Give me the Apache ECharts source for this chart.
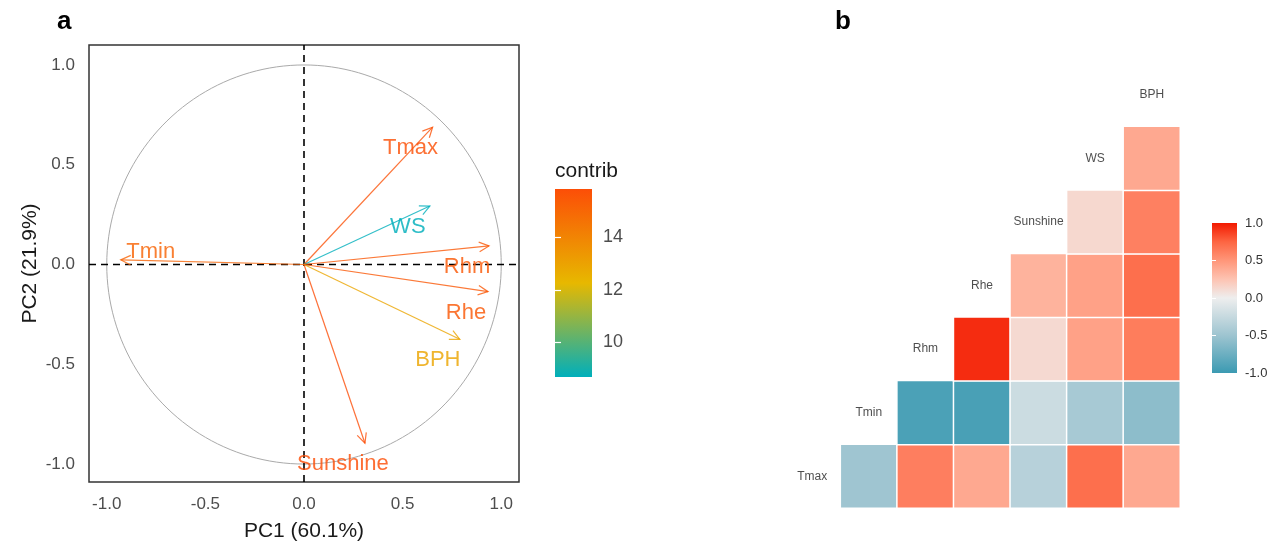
<!DOCTYPE html>
<head>
    <meta charset="utf-8">
    <title>PCA and correlation</title>
    <style>
        html, body { margin: 0; padding: 0; background: #fff; }
        #main { width: 1275px; height: 548px; }
    </style>
</head>
<body>
<div id="main"></div>

<script src="https://cdn.jsdelivr.net/npm/echarts@6/dist/echarts.min.js"></script>
<script type="text/javascript">
    // panel a: PCA variable loadings (PC1, PC2) and contribution
    var pcaVars = ['Tmax', 'WS', 'Rhm', 'Rhe', 'BPH', 'Sunshine', 'Tmin'];
    var pc1 = [0.652, 0.638, 0.938, 0.933, 0.790, 0.309, -0.929];
    var pc2 = [0.688, 0.293, 0.093, -0.136, -0.375, -0.896, 0.023];
    var contrib = [15.75, 8.68, 15.5, 15.5, 12.9, 15.85, 15.1];
    var pcTicks = [-1, -0.5, 0, 0.5, 1];
    var contribTicks = [10, 12, 14];

    // panel b: correlation matrix, lower triangle by row
    var corrVars = ['Tmax', 'Tmin', 'Rhm', 'Rhe', 'Sunshine', 'WS', 'BPH'];
    var corrTmax = [-0.49, 0.62, 0.40, -0.34, 0.70, 0.40];
    var corrTmin = [-0.92, -0.93, -0.22, -0.44, -0.58];
    var corrRhm = [0.94, 0.12, 0.44, 0.63];
    var corrRhe = [0.34, 0.44, 0.70];
    var corrSunshine = [0.13, 0.61];
    var corrWS = [0.40];
    var corrTicks = [-1, -0.5, 0, 0.5, 1];

    var FONT = 'Liberation Sans, Arial, sans-serif';
    var contribColors = ['#00AFBB', '#E7B800', '#FC4E07'];
    // low / mid / high with Lab-like steps in between
    var corrColors = ['#3B9AB2', '#6CAFC1', '#9DC4D0', '#C6D9DF', '#EEEEEE',
        '#FDC3B2', '#FF9679', '#FD6542', '#F21A00'];

    var cMin = Math.min.apply(null, contrib);
    var cMax = Math.max.apply(null, contrib);

    var arrowData = pcaVars.map(function (n, i) { return [pc1[i], pc2[i], contrib[i]]; });

    var corrRows = [corrTmax, corrTmin, corrRhm, corrRhe, corrSunshine, corrWS];
    var heatData = [];
    corrRows.forEach(function (row, i) {
        row.forEach(function (v, k) { heatData.push([i + 1 + k, i, v]); });
    });
    var diagData = corrVars.map(function (n, i) { return [i, i]; });

    function renderArrow(params, api) {
        var x = api.value(0), y = api.value(1);
        var o = api.coord([0, 0]);
        var p = api.coord([x, y]);
        var color = api.visual('color');
        var ang = Math.atan2(p[1] - o[1], p[0] - o[0]);
        var L = 11, a = Math.PI / 7;
        var h1 = [p[0] - L * Math.cos(ang - a), p[1] - L * Math.sin(ang - a)];
        var h2 = [p[0] - L * Math.cos(ang + a), p[1] - L * Math.sin(ang + a)];
        var right = x >= 0;
        return {
            type: 'group',
            children: [
                {type: 'line', shape: {x1: o[0], y1: o[1], x2: p[0], y2: p[1]},
                    style: {stroke: color, lineWidth: 1.2, opacity: 0.8}},
                {type: 'polyline', shape: {points: [h1, p, h2]},
                    style: {stroke: color, fill: null, lineWidth: 1.2, opacity: 0.8}},
                {type: 'text', x: p[0] + (right ? -22 : 30), y: p[1] + (right ? 21 : -8),
                    style: {text: pcaVars[params.dataIndex], fill: color, fontSize: 22, opacity: 0.82,
                        fontFamily: FONT, align: 'center', verticalAlign: 'middle'}}
            ]
        };
    }

    function renderCircle(params, api) {
        var pts = [];
        for (var k = 0; k <= 180; k++) {
            var t = k / 180 * 2 * Math.PI;
            pts.push(api.coord([Math.cos(t), Math.sin(t)]));
        }
        return {type: 'polyline', shape: {points: pts},
            style: {stroke: '#aaaaaa', fill: null, lineWidth: 1}};
    }

    function renderCross(params, api) {
        var a = api.coord([0, -1.09]), b = api.coord([0, 1.1]);
        var c = api.coord([-1.09, 0]), d = api.coord([1.09, 0]);
        var st = {stroke: '#000', lineWidth: 1.6, lineDash: [7, 5]};
        return {type: 'group', children: [
            {type: 'line', shape: {x1: a[0], y1: a[1], x2: b[0], y2: b[1]}, style: st},
            {type: 'line', shape: {x1: c[0], y1: c[1], x2: d[0], y2: d[1]}, style: st}
        ]};
    }

    function barRenderer(colors) {
        return function (params, api) {
            var lo = api.value(0), hi = api.value(1);
            var p1 = api.coord([0, hi]), p2 = api.coord([1, lo]);
            var stops = colors.map(function (c, i) {
                return {offset: i / (colors.length - 1), color: c};
            });
            return {type: 'rect',
                shape: {x: p1[0], y: p1[1], width: p2[0] - p1[0], height: p2[1] - p1[1]},
                style: {fill: new echarts.graphic.LinearGradient(0, 1, 0, 0, stops)}};
        };
    }

    function fmt1(v) { return Number(v).toFixed(1); }

    var myChart = echarts.init(document.getElementById('main'));
    myChart.setOption({
        animation: false,
        backgroundColor: '#fff',
        grid: [
            {left: 89, top: 45, width: 430, height: 437, show: true, borderColor: '#333', borderWidth: 1.5},
            {left: 555, top: 189, width: 37, height: 188},
            {left: 784, top: 63, width: 396, height: 445},
            {left: 1212, top: 223, width: 25, height: 150}
        ],
        xAxis: [
            {type: 'value', gridIndex: 0, min: -1.09, max: 1.09,
                splitLine: {show: false}, axisLine: {show: false}, axisTick: {show: false},
                axisLabel: {customValues: pcTicks, formatter: fmt1, color: '#4d4d4d', fontSize: 17,
                    fontFamily: FONT, margin: 14},
                name: 'PC1 (60.1%)', nameLocation: 'middle', nameGap: 39,
                nameTextStyle: {color: '#1a1a1a', fontSize: 21, fontFamily: FONT}},
            {type: 'value', gridIndex: 1, min: 0, max: 1, show: false},
            {type: 'category', gridIndex: 2, data: corrVars, show: false},
            {type: 'value', gridIndex: 3, min: 0, max: 1, show: false}
        ],
        yAxis: [
            {type: 'value', gridIndex: 0, min: -1.09, max: 1.1,
                splitLine: {show: false}, axisLine: {show: false}, axisTick: {show: false},
                axisLabel: {customValues: pcTicks, formatter: fmt1, color: '#4d4d4d', fontSize: 17,
                    fontFamily: FONT, margin: 14},
                name: 'PC2 (21.9%)', nameLocation: 'middle', nameGap: 48,
                nameTextStyle: {color: '#1a1a1a', fontSize: 21, fontFamily: FONT}},
            {type: 'value', gridIndex: 1, min: cMin, max: cMax, position: 'right', z: 10,
                splitLine: {show: false}, axisLine: {show: false},
                axisTick: {inside: true, length: 6, customValues: contribTicks, lineStyle: {color: '#fff', width: 1.2}},
                axisLabel: {customValues: contribTicks, color: '#4d4d4d', fontSize: 18, fontFamily: FONT, margin: 11}},
            {type: 'value', gridIndex: 1, min: cMin, max: cMax, position: 'left', z: 10,
                splitLine: {show: false}, axisLine: {show: false}, axisLabel: {show: false},
                axisTick: {inside: true, length: 6, customValues: contribTicks, lineStyle: {color: '#fff', width: 1.2}}},
            {type: 'category', gridIndex: 2, data: corrVars, show: false},
            {type: 'value', gridIndex: 3, min: -1, max: 1, position: 'right', z: 10,
                splitLine: {show: false}, axisLine: {show: false},
                axisTick: {inside: true, length: 4, customValues: [-0.5, 0, 0.5], lineStyle: {color: '#fff', width: 1}},
                axisLabel: {customValues: corrTicks, formatter: fmt1, color: '#333', fontSize: 13, fontFamily: FONT, margin: 8}},
            {type: 'value', gridIndex: 3, min: -1, max: 1, position: 'left', z: 10,
                splitLine: {show: false}, axisLine: {show: false}, axisLabel: {show: false},
                axisTick: {inside: true, length: 4, customValues: [-0.5, 0, 0.5], lineStyle: {color: '#fff', width: 1}}}
        ],
        visualMap: [
            {type: 'continuous', show: false, seriesIndex: 2, dimension: 2, min: cMin, max: cMax,
                inRange: {color: contribColors}},
            {type: 'continuous', show: false, seriesIndex: 4, dimension: 2, min: -1, max: 1,
                inRange: {color: corrColors}}
        ],
        graphic: [
            {type: 'text', left: 57, top: 9, style: {text: 'a', fontSize: 26, fontWeight: 'bold', fontFamily: FONT, fill: '#000'}},
            {type: 'text', left: 835, top: 9, style: {text: 'b', fontSize: 26, fontWeight: 'bold', fontFamily: FONT, fill: '#000'}},
            {type: 'text', left: 555, top: 161, style: {text: 'contrib', fontSize: 21, fontFamily: FONT, fill: '#1a1a1a'}}
        ],
        series: [
            {type: 'custom', xAxisIndex: 0, yAxisIndex: 0, renderItem: renderCircle, data: [[0, 0]], silent: true},
            {type: 'custom', xAxisIndex: 0, yAxisIndex: 0, renderItem: renderCross, data: [[0, 0]], silent: true},
            {type: 'custom', xAxisIndex: 0, yAxisIndex: 0, renderItem: renderArrow, data: arrowData, z: 5},
            {type: 'custom', xAxisIndex: 1, yAxisIndex: 1, renderItem: barRenderer(contribColors), data: [[cMin, cMax]]},
            {type: 'heatmap', xAxisIndex: 2, yAxisIndex: 3, data: heatData,
                itemStyle: {borderColor: '#fff', borderWidth: 1.5}},
            {type: 'scatter', xAxisIndex: 2, yAxisIndex: 3, data: diagData, symbolSize: 0,
                label: {show: true, position: 'inside', color: '#222', fontSize: 12, fontFamily: FONT,
                    formatter: function (p) { return corrVars[p.dataIndex]; }}},
            {type: 'custom', xAxisIndex: 3, yAxisIndex: 4, renderItem: barRenderer(corrColors), data: [[-1, 1]]}
        ]
    });
</script>
</body>
